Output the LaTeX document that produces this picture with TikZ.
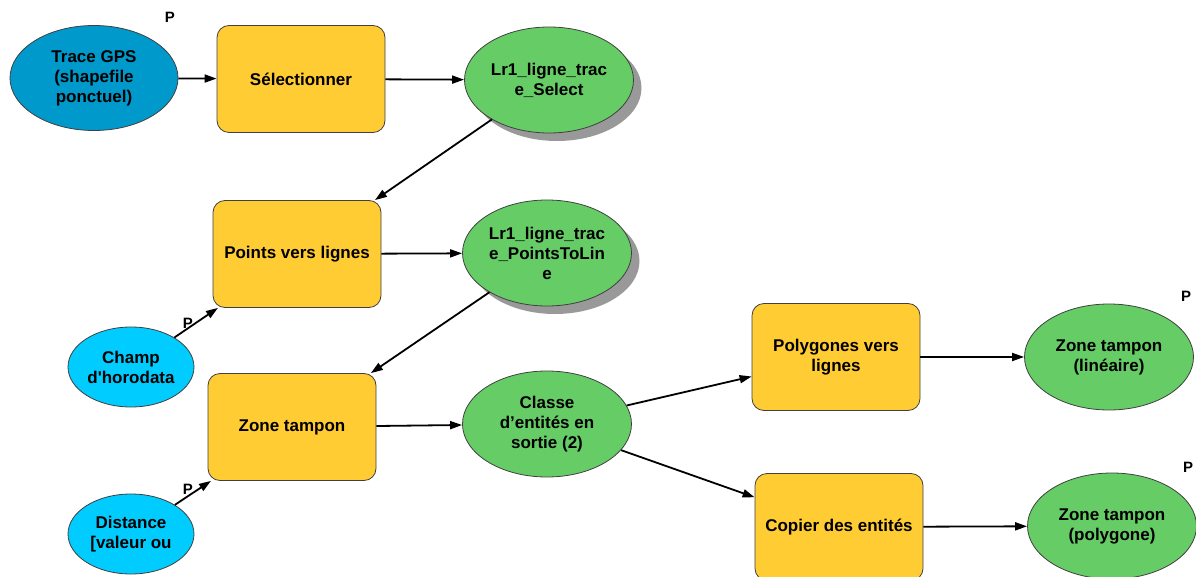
\documentclass[tikz,border=0pt]{standalone}
\usepackage{fontspec}
\setmainfont{Liberation Sans}[Ligatures=TeXOff]
\usetikzlibrary{shapes.geometric,arrows.meta,shadows}

\definecolor{inblue}{HTML}{0099CC}
\definecolor{incyan}{HTML}{00CCFF}
\definecolor{toolyellow}{HTML}{FFCC33}
\definecolor{outgreen}{HTML}{66CC66}
\definecolor{edgegray}{HTML}{404040}

\tikzset{
  base/.style={draw=edgegray, line width=0.8pt, align=center, inner sep=0pt,
    font=\fontsize{17}{20}\selectfont\bfseries, text=black},
  toolbox/.style={base, rectangle, rounded corners=12pt, fill=toolyellow,
    minimum width=168pt, minimum height=107pt},
  dataell/.style={base, ellipse, fill=outgreen,
    minimum width=169pt, minimum height=106pt},
  shadowell/.style={dataell, drop shadow={shadow xshift=8pt, shadow yshift=-8pt,
    fill=black!40, opacity=1}},
  inputell/.style={base, ellipse, fill=inblue,
    minimum width=168pt, minimum height=105pt},
  paramell/.style={base, ellipse, fill=incyan,
    minimum width=126pt, minimum height=80pt},
  pmark/.style={font=\fontsize{15}{15}\selectfont\bfseries, inner sep=0pt},
  flow/.style={line width=1.8pt, -{Triangle[length=12pt,width=8pt]}}
}

\begin{document}
\begin{tikzpicture}[x=1pt,y=-1pt]
\useasboundingbox (0,0) rectangle (1196,577);

% inputs and parameters
\node[inputell] (gps) at (94,78) {Trace GPS\\(shapefile\\ponctuel)};
\node[paramell] (champ) at (131,367) {Champ\\d'horodata};
\node[paramell] (dist) at (131,534) {Distance\\{[}valeur ou};

% tools
\node[toolbox] (select) at (301,79) {Sélectionner};
\node[toolbox] (p2l) at (297,254) {Points vers lignes};
\node[toolbox] (buffer) at (292,427) {Zone tampon};
\node[toolbox] (poly2l) at (836,357) {Polygones vers\\lignes};
\node[toolbox] (copy) at (839,527) {Copier des entités};

% intermediate and final data
\node[shadowell] (selout) at (549,80) {Lr1\_ligne\_trac\\e\_Select};
\node[shadowell] (p2lout) at (547,253) {Lr1\_ligne\_trac\\e\_PointsToLin\\e};
\node[dataell] (classe) at (547,424) {Classe\\d’entités en\\sortie (2)};
\node[dataell] (zlin) at (1109,357) {Zone tampon\\(linéaire)};
\node[dataell] (zpoly) at (1112,526) {Zone tampon\\(polygone)};

% parameter markers
\node[pmark] (pgps) at (170,17) {P};
\node[pmark] (pchamp) at (188,323) {P};
\node[pmark] (pdist) at (188,489) {P};
\node[pmark] (pzlin) at (1186,296) {P};
\node[pmark] (pzpoly) at (1188,467) {P};

% connectors
\draw[flow] (gps) -- (select);
\draw[flow] (select) -- (selout);
\draw[flow] (selout) -- (p2l);
\draw[flow] (champ) -- (p2l);
\draw[flow] (p2l) -- (p2lout);
\draw[flow] (p2lout) -- (buffer);
\draw[flow] (dist) -- (buffer);
\draw[flow] (buffer) -- (classe);
\draw[flow] (classe) -- (poly2l);
\draw[flow] (classe) -- (copy);
\draw[flow] (poly2l) -- (zlin);
\draw[flow] (copy) -- (zpoly);
\end{tikzpicture}
\end{document}
